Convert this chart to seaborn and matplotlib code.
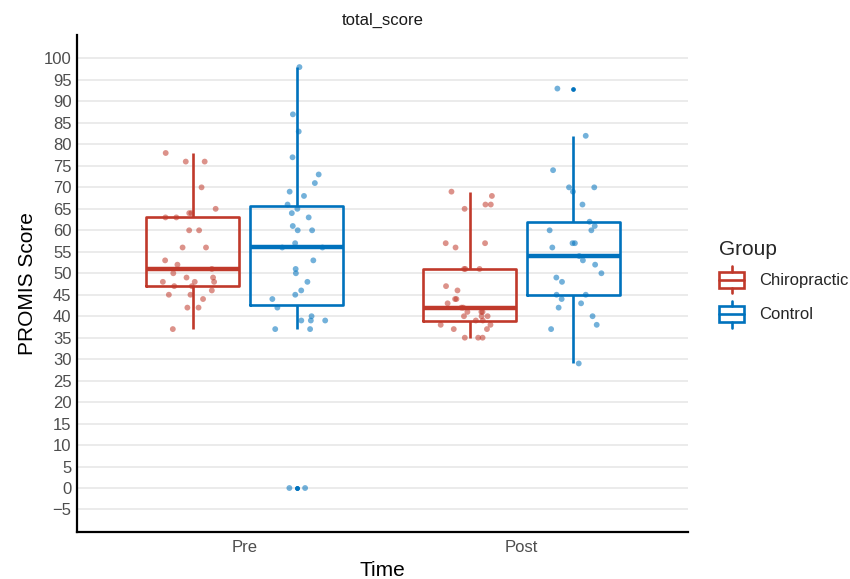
import numpy as np
import pandas as pd
import matplotlib
matplotlib.use("Agg")
import matplotlib.pyplot as plt
import seaborn as sns
from matplotlib.patches import Patch, Rectangle
from matplotlib.lines import Line2D
from matplotlib.legend_handler import HandlerBase

# ---- data -----------------------------------------------------------------
times = ["Pre", "Post"]
groups = ["Chiropractic", "Control"]
group_colors = ["#C0392B", "#0072BD"]

chiro_pre = [78, 76, 76, 70, 65, 64, 64, 63, 63, 60, 60, 56, 56, 53, 52, 51,
             50, 49, 49, 48, 48, 48, 47, 47, 46, 45, 45, 44, 42, 42, 37]
control_pre = [98, 87, 83, 77, 73, 71, 69, 68, 66, 65, 64, 63, 61, 60, 60, 57,
               56, 56, 53, 51, 50, 48, 46, 45, 44, 42, 40, 39, 39, 39, 37, 37,
               0, 0]
chiro_post = [69, 68, 66, 66, 65, 57, 57, 56, 51, 51, 51, 47, 46, 44, 44, 43,
              42, 42, 41, 41, 41, 40, 40, 40, 39, 39, 38, 38, 37, 37, 35, 35, 35]
control_post = [93, 82, 74, 70, 70, 69, 66, 62, 61, 60, 60, 57, 57, 56, 54, 53,
                52, 50, 49, 48, 45, 45, 44, 43, 42, 40, 38, 37, 29]

y_ticks = list(range(-5, 101, 5))

frames = []
for t, g, vals in [("Pre", "Chiropractic", chiro_pre),
                   ("Pre", "Control", control_pre),
                   ("Post", "Chiropractic", chiro_post),
                   ("Post", "Control", control_post)]:
    frames.append(pd.DataFrame({"Time": t, "Group": g, "total_score": vals}))
df = pd.concat(frames, ignore_index=True)

# ---- style ----------------------------------------------------------------
sns.set_theme(style="white")
plt.rcParams["font.family"] = ["Liberation Sans", "DejaVu Sans"]

fig = plt.figure(figsize=(8.5, 5.79), dpi=100)
ax = fig.add_axes([77 / 850, 1 - 532 / 579, (688 - 77) / 850, (532 - 35) / 579])

ax.yaxis.grid(True, color="#E8E8E8", linewidth=1.2)
ax.xaxis.grid(False)
ax.set_axisbelow(True)

sns.boxplot(
    data=df, x="Time", y="total_score", hue="Group",
    order=times, hue_order=groups, palette=group_colors,
    fill=False, width=0.75, gap=0.1, linewidth=1.9, showcaps=False,
    whis=1.5, medianprops=dict(linewidth=3.2),
    flierprops=dict(marker="o", markersize=2.4),
    legend=False, ax=ax,
)
# outliers drawn as small solid dots
for ln in ax.lines:
    if ln.get_marker() == "o":
        ln.set_markerfacecolor(ln.get_markeredgecolor())

np.random.seed(7)
sns.stripplot(
    data=df, x="Time", y="total_score", hue="Group",
    order=times, hue_order=groups, palette=group_colors,
    dodge=True, jitter=0.2, size=4.2, alpha=0.55, linewidth=0,
    legend=False, ax=ax,
)

ax.set_xlim(-0.605, 1.601)
ax.set_ylim(-10.24, 105.47)
ax.set_yticks(y_ticks)
ax.set_yticklabels([str(v).replace("-", "\u2212") for v in y_ticks])

for side in ["top", "right"]:
    ax.spines[side].set_visible(False)
for side in ["left", "bottom"]:
    ax.spines[side].set_color("black")
    ax.spines[side].set_linewidth(1.6)

ax.tick_params(axis="both", length=0, labelsize=12, labelcolor="#4D4D4D")
ax.tick_params(axis="y", pad=4)
ax.tick_params(axis="x", pad=6)

ax.set_xlabel("Time", fontsize=15, color="black", labelpad=4)
ax.set_ylabel("PROMIS Score", fontsize=15, color="black", labelpad=5)
ax.set_title("total_score", fontsize=12, color="#1A1A1A", pad=7)


# ---- legend with box-shaped keys ------------------------------------------
class BoxKey(HandlerBase):
    def create_artists(self, legend, orig_handle, xdescent, ydescent,
                       width, height, fontsize, trans):
        c = orig_handle.get_edgecolor()
        x0, y0 = -xdescent, -ydescent
        lo, hi = y0 + 0.2 * height, y0 + 0.8 * height
        rect = Rectangle((x0, lo), width, hi - lo, fill=False,
                         edgecolor=c, linewidth=1.9, transform=trans)
        med = Line2D([x0, x0 + width], [y0 + height / 2] * 2, color=c,
                     linewidth=1.9, transform=trans)
        w1 = Line2D([x0 + width / 2] * 2, [y0, lo], color=c,
                    linewidth=1.9, transform=trans)
        w2 = Line2D([x0 + width / 2] * 2, [hi, y0 + height], color=c,
                    linewidth=1.9, transform=trans)
        return [rect, med, w1, w2]


handles = [Patch(facecolor="none", edgecolor=c, label=g)
           for g, c in zip(groups, group_colors)]
leg = fig.legend(
    handles=handles, title="Group", loc="upper left",
    bbox_to_anchor=(719 / 850, 1 - 240 / 579), frameon=False,
    fontsize=12, title_fontsize=15, handlelength=1.5, handleheight=2.1,
    labelspacing=0.45, handletextpad=0.9, borderpad=0, borderaxespad=0,
    alignment="left", handler_map={h: BoxKey() for h in handles},
)

fig.savefig("out.png", dpi=100)
